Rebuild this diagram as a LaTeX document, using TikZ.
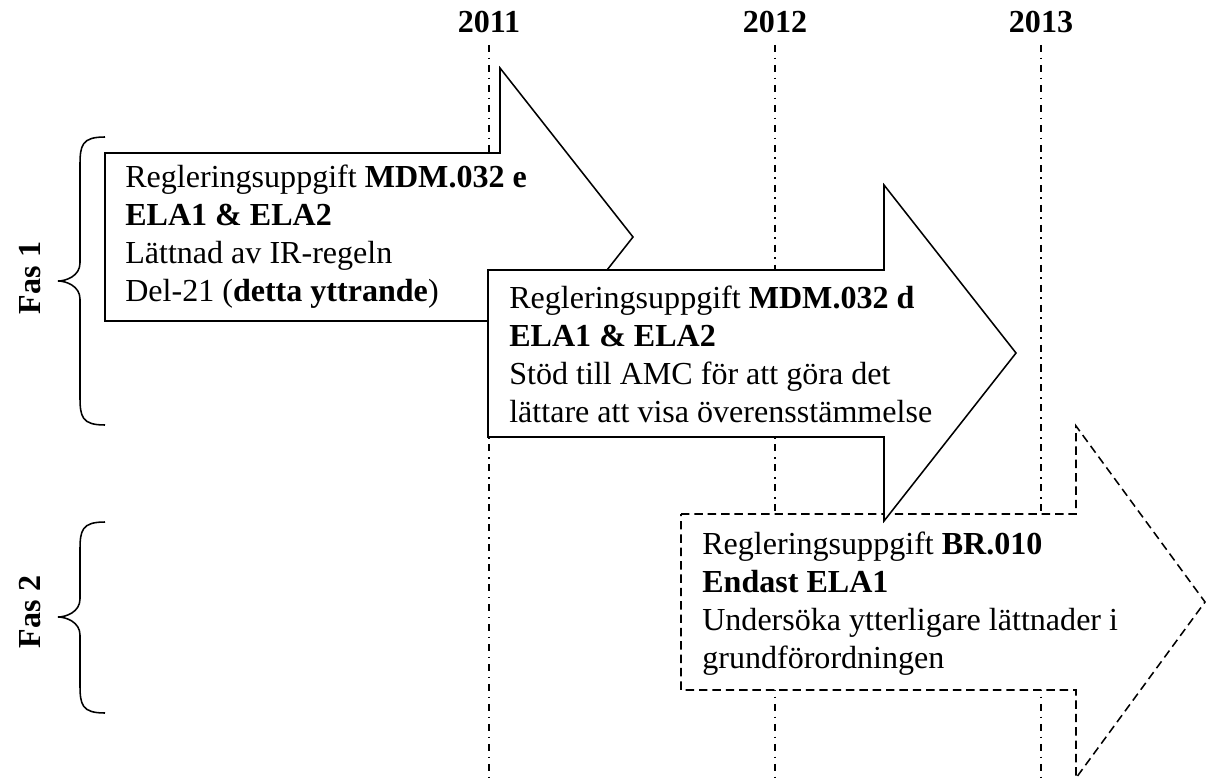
\documentclass[tikz,border=0pt]{standalone}
\usepackage{fontspec}
\setmainfont{Liberation Serif}
\begin{document}
\begin{tikzpicture}[x=0.025cm, y=-0.025cm,
    arrowbox/.style={draw, line width=1.1pt, fill=white, line join=miter},
    yearline/.style={line width=0.9pt, dash pattern=on 5pt off 4pt on 1.2pt off 4pt},
    bracket/.style={draw, line width=1.1pt},
    task/.style={align=left, anchor=west, inner sep=0pt, font=\fontsize{22.8}{27}\selectfont},
    year/.style={anchor=base, inner sep=0pt, font=\fontsize{22.8}{27}\selectfont\bfseries},
    phase/.style={rotate=90, inner sep=0pt, font=\fontsize{22.8}{27}\selectfont\bfseries}]
    \useasboundingbox (0,0) rectangle (1207,781);

    % years
    \node[year] (y2011) at (489,33) {2011};
    \node[year] (y2012) at (775,33) {2012};
    \node[year] (y2013) at (1041,33) {2013};
    \draw[yearline] (489,45) -- (489,781);
    \draw[yearline] (775,45) -- (775,781);
    \draw[yearline] (1041,45) -- (1041,781);

    % phases
    \draw[bracket] (105,137) .. controls (82,137) and (80,145) .. (80,165)
        -- (80,263) .. controls (80,276) and (66,281) .. (58,281)
        .. controls (66,281) and (80,286) .. (80,299)
        -- (80,397) .. controls (80,417) and (82,425) .. (105,425);
    \node[phase] (fas1) at (30,278) {Fas 1};
    \draw[bracket] (105,522) .. controls (82,522) and (80,530) .. (80,550)
        -- (80,599) .. controls (80,612) and (66,617) .. (58,617)
        .. controls (66,617) and (80,622) .. (80,635)
        -- (80,685) .. controls (80,705) and (82,713) .. (105,713);
    \node[phase] (fas2) at (30,612) {Fas 2};

    % MDM.032 e
    \draw[arrowbox] (105,153) -- (500,153) -- (500,68) -- (633,237) -- (500,406) -- (500,321) -- (105,321) -- cycle;
    \node[task] (taskE) at (125,237) {
        Regleringsuppgift \textbf{MDM.032 e}\\
        \textbf{ELA1 \& ELA2}\\
        Lättnad av IR-regeln\\
        Del-21 (\textbf{detta yttrande})
    };

    % BR.010
    \draw[arrowbox, dash pattern=on 6pt off 3.5pt] (681,514) -- (1076,514) -- (1076,426) -- (1205,602) -- (1076,778) -- (1076,690) -- (681,690) -- cycle;
    \node[task] (taskBR) at (702,604) {
        Regleringsuppgift \textbf{BR.010}\\
        \textbf{Endast ELA1}\\
        Undersöka ytterligare lättnader i\\
        grundförordningen
    };

    % MDM.032 d
    \draw[arrowbox] (488,270) -- (884,270) -- (884,185) -- (1016,353) -- (884,521) -- (884,437) -- (488,437) -- cycle;
    \node[task] (taskD) at (509,354) {
        Regleringsuppgift \textbf{MDM.032 d}\\
        \textbf{ELA1 \& ELA2}\\
        Stöd till AMC för att göra det\\
        lättare att visa överensstämmelse
    };
\end{tikzpicture}
\end{document}
